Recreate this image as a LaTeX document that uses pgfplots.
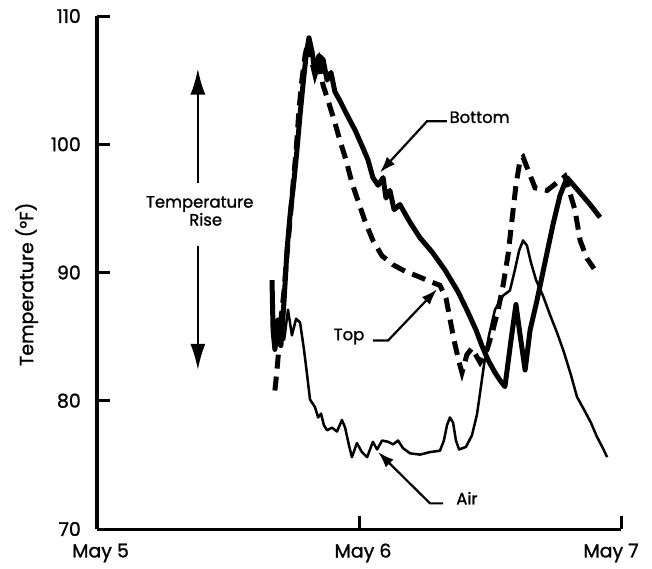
\documentclass[border=0pt]{standalone}
\usepackage{pgfplots}
\pgfplotsset{compat=1.18}
\usepackage{fontspec}
\setmainfont{Poppins}[FakeBold=1.2]
\usetikzlibrary{arrows.meta}
\newcommand{\tickfont}{\fontsize{19}{22}\selectfont}
\newcommand{\annfont}{\fontsize{16.5}{21}\selectfont}
\begin{document}
\begin{tikzpicture}
\path[use as bounding box] (0bp,0bp) rectangle (652bp,-569bp);
\begin{axis}[
  at={(97bp,-529bp)}, anchor=south west,
  width=524bp, height=513bp, scale only axis,
  xmin=0, xmax=2, ymin=70, ymax=110,
  axis x line=bottom, axis y line=left,
  axis line style={-, line width=3bp},
  every outer x axis line/.append style={-},
  every outer y axis line/.append style={-},
  xtick={0,1,2}, xticklabels={\hspace*{7bp}May 5, \hspace*{8bp}May 6, May 7\hspace*{20bp}},
  ytick={70,80,90,100,110},
  tick align=inside,
  major tick length=13bp,
  every tick/.append style={line width=3bp, black},
  every major tick/.append style={line width=3bp, black},
  major tick style={line width=3bp, black},
  /pgf/number format/assume math mode=true,
  tick label style={font=\tickfont},
  yticklabel style={inner sep=0pt, anchor=east, xshift=-16bp},
  xticklabel style={inner sep=0pt, anchor=center, yshift=-24bp},
  ylabel={Temperature (°F)},
  ylabel style={font=\fontsize{19}{22}\selectfont, at={(axis description cs:-0.134,0.477)}, anchor=center, rotate=0},
  clip=false,
]
% Bottom (thick solid)
\addplot[black, line width=5bp, line join=round] coordinates {
(0.668,89.4) (0.672,85.5) (0.679,84.0) (0.691,86.3) (0.702,84.3) (0.714,87.8)
(0.725,91.7) (0.737,94.5) (0.752,97.2) (0.763,99.5) (0.775,102.3) (0.786,104.6)
(0.798,106.9) (0.809,108.3) (0.821,107.2) (0.832,105.6) (0.847,106.9) (0.863,106.6)
(0.878,105.0) (0.893,105.6) (0.908,104.1) (0.927,103.4) (0.954,102.3) (0.985,101.1)
(1.011,99.9) (1.034,98.8) (1.053,97.4) (1.073,96.8) (1.092,97.4) (1.103,95.8)
(1.118,96.4) (1.134,94.9) (1.156,95.3) (1.195,93.9) (1.233,92.7) (1.279,91.6)
(1.328,90.2) (1.378,88.5) (1.416,86.9) (1.447,85.5) (1.469,84.3) (1.492,83.2)
(1.519,82.2) (1.538,81.6) (1.557,81.1) (1.580,84.7) (1.599,87.5) (1.615,85.1)
(1.634,82.4) (1.653,85.5) (1.679,87.8) (1.710,90.8) (1.740,93.7) (1.767,96.0)
(1.794,97.4) (1.836,96.4) (1.882,95.3) (1.920,94.3)
};
% Top (thick dashed)
\addplot[black, line width=5bp, dash pattern=on 14bp off 8bp] coordinates {
(0.679,80.8) (0.687,82.4) (0.695,84.3) (0.702,86.3) (0.714,88.6) (0.725,91.4)
(0.737,94.1) (0.748,96.8) (0.760,99.5) (0.771,102.7) (0.782,105.0) (0.794,106.9)
(0.805,108.0) (0.817,106.7) (0.832,105.4) (0.847,106.4) (0.863,104.6) (0.882,103.4)
(0.905,101.9) (0.927,100.3) (0.950,98.8) (0.973,97.0) (0.996,95.6) (1.023,94.0)
(1.053,92.5) (1.088,91.3) (1.130,90.6) (1.176,90.1) (1.225,89.7) (1.271,89.3)
(1.309,89.0) (1.332,88.0) (1.347,86.4) (1.363,84.7) (1.382,83.0) (1.393,82.2)
(1.412,83.6) (1.431,84.1) (1.462,83.0) (1.489,84.0) (1.511,85.5) (1.531,87.1)
(1.550,89.0) (1.569,91.4) (1.584,94.1) (1.599,96.8) (1.615,98.8) (1.626,99.0)
(1.645,98.0) (1.672,96.6) (1.718,96.4) (1.786,97.5) (1.805,96.2) (1.824,94.9)
(1.844,92.5) (1.870,91.1) (1.897,90.3)
};
% Air (thin solid)
\addplot[black, line width=2.5bp, line join=round] coordinates {
(0.714,84.7) (0.729,87.1) (0.744,85.1) (0.760,86.4) (0.775,86.1) (0.790,84.0)
(0.802,82.0) (0.813,80.1) (0.832,79.5) (0.844,78.7) (0.855,79.0) (0.866,78.1)
(0.878,77.7) (0.897,77.9) (0.916,77.6) (0.935,78.5) (0.947,77.9) (0.962,76.5)
(0.973,75.6) (0.992,76.7) (1.011,76.0) (1.031,75.6) (1.053,76.8) (1.069,76.2)
(1.088,76.9) (1.111,76.8) (1.130,76.6) (1.149,76.9) (1.168,76.3) (1.195,75.9)
(1.233,75.8) (1.271,76.0) (1.309,76.1) (1.324,76.9) (1.336,78.1) (1.347,78.7)
(1.359,78.3) (1.370,76.9) (1.382,76.2) (1.408,76.4) (1.431,77.3) (1.450,78.9)
(1.462,80.6) (1.477,82.8) (1.496,85.1) (1.519,87.1) (1.550,88.2) (1.576,88.6)
(1.595,90.2) (1.611,91.7) (1.626,92.5) (1.641,92.1) (1.656,90.8) (1.676,89.4)
(1.702,88.2) (1.729,86.7) (1.756,85.3) (1.782,83.8) (1.809,82.0) (1.832,80.3)
(1.859,79.3) (1.885,78.3) (1.908,77.2) (1.931,76.3) (1.947,75.6)
};
% Temperature rise arrow
\draw[line width=2.2bp, -{Latex[length=26bp,width=15bp]}] (axis cs:0.385,97.0) -- (axis cs:0.385,105.9);
\draw[line width=2.2bp, -{Latex[length=26bp,width=15bp]}] (axis cs:0.385,92.1) -- (axis cs:0.385,82.4);
\node[font=\annfont, align=center, inner sep=0pt] at (axis cs:0.392,94.8) {Temperature\\[-3bp]\hspace*{12bp}Rise};
% Leaders
\draw[line width=2.2bp, -{Latex[length=16bp,width=11bp]}] (axis cs:1.335,101.8) -- (axis cs:1.260,101.8) -- (axis cs:1.080,97.8);
\node[font=\annfont, anchor=west, inner sep=0pt] at (axis cs:1.345,102.1) {Bottom};
\draw[line width=2.2bp, -{Latex[length=16bp,width=11bp]}] (axis cs:1.053,84.7) -- (axis cs:1.111,84.7) -- (axis cs:1.298,88.7);
\node[font=\annfont, inner sep=0pt] at (axis cs:0.962,85.0) {Top};
\draw[line width=2.2bp, -{Latex[length=16bp,width=11bp]}] (axis cs:1.321,72.0) -- (axis cs:1.271,72.0) -- (axis cs:1.073,76.0);
\node[font=\annfont, inner sep=0pt] at (axis cs:1.412,72.4) {Air};
\end{axis}
\end{tikzpicture}
\end{document}
